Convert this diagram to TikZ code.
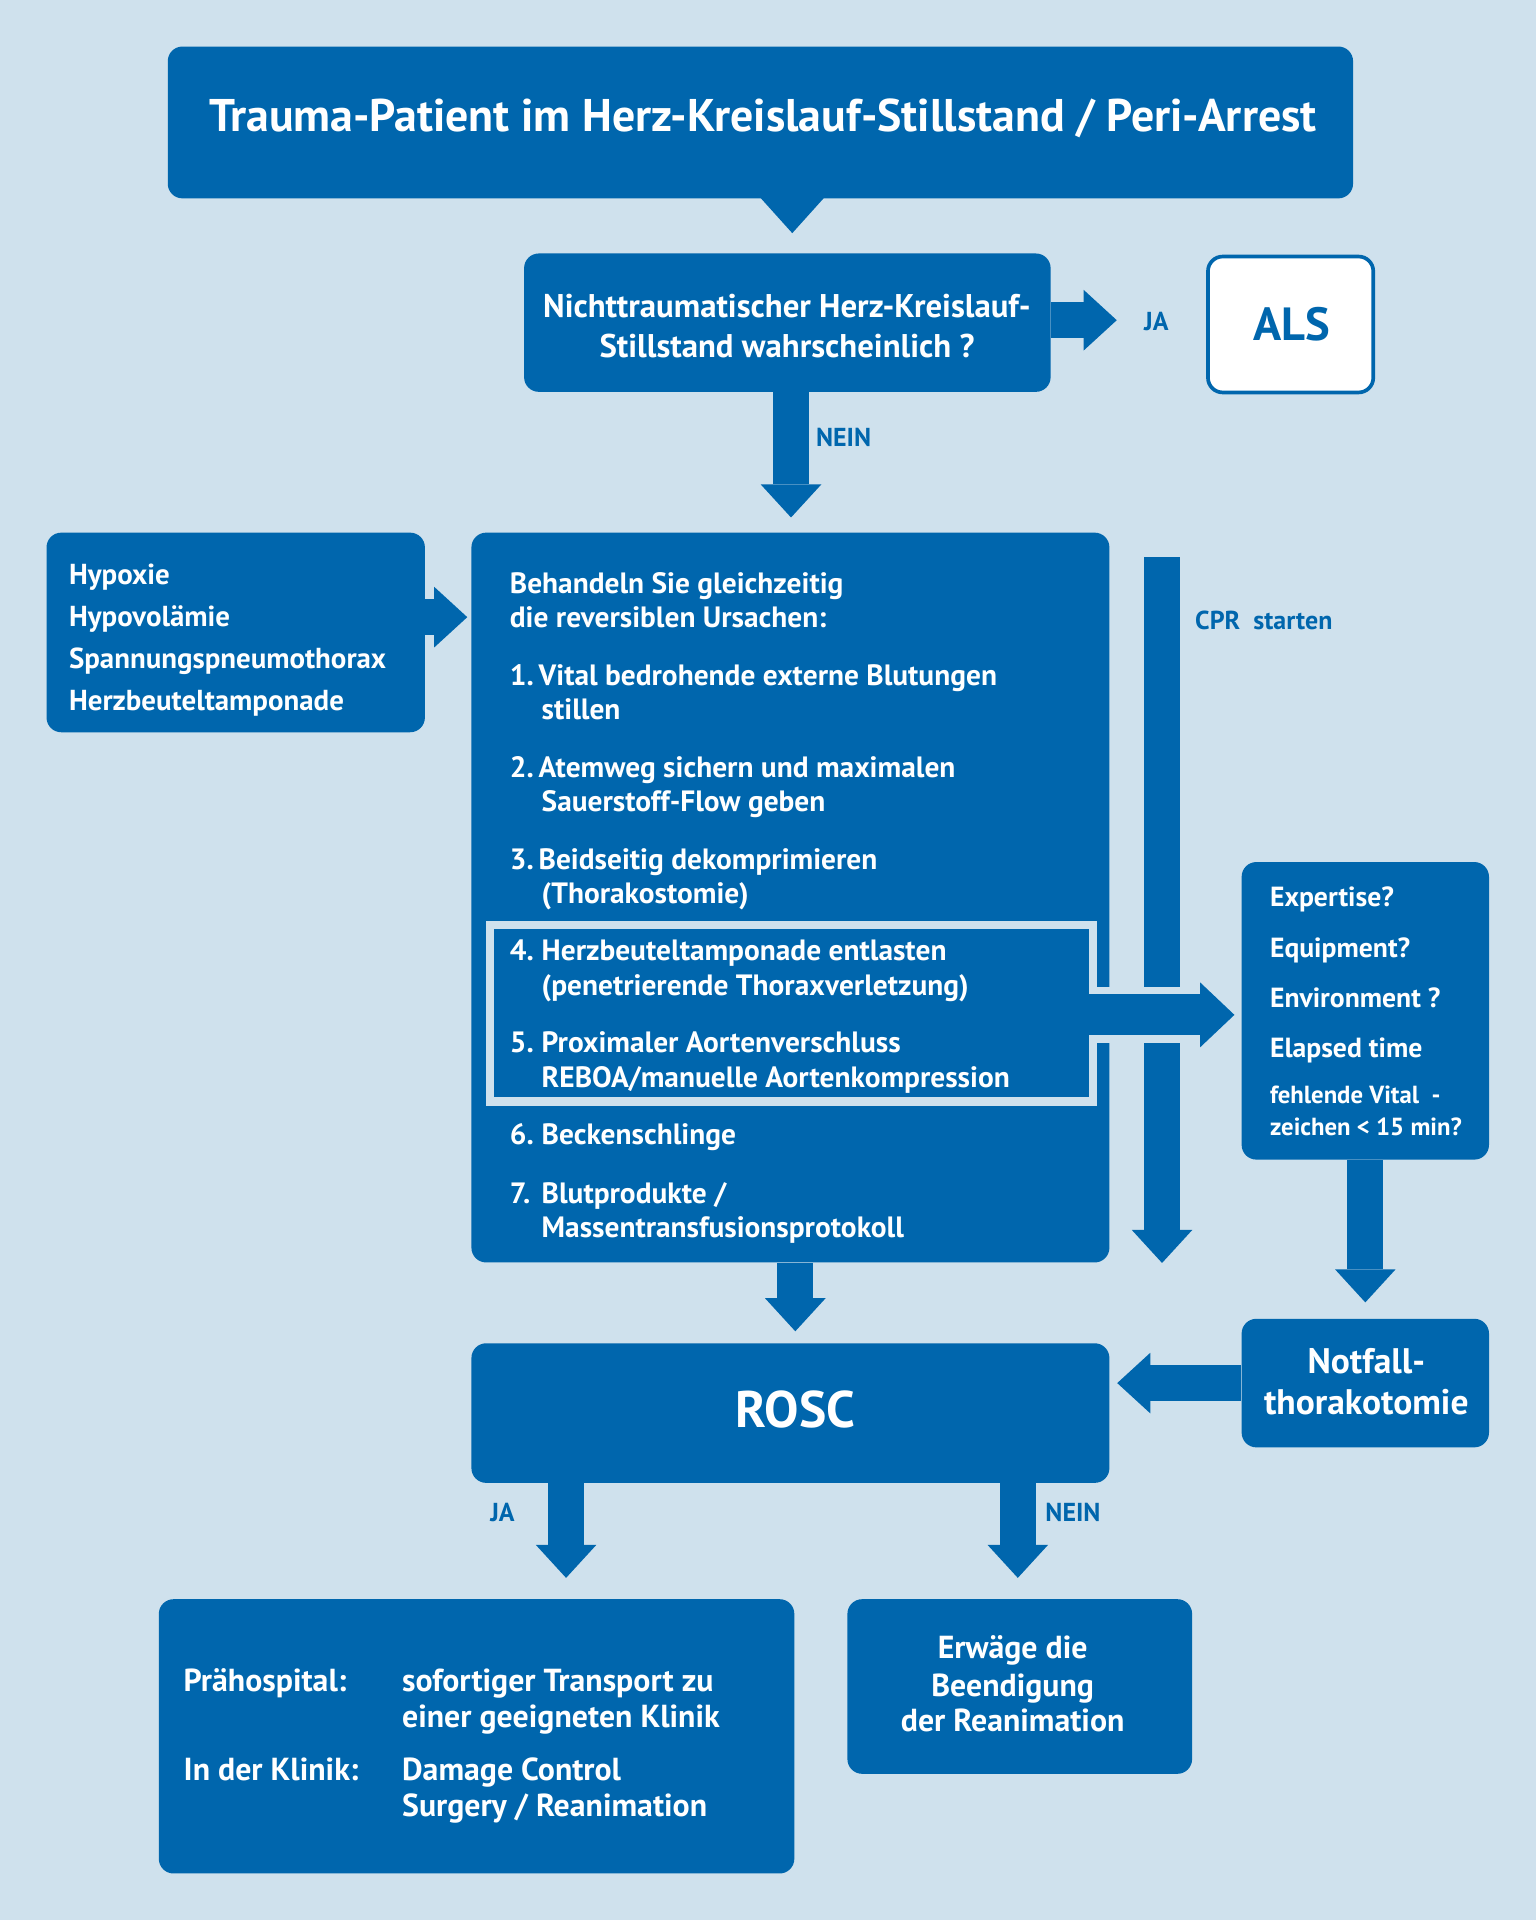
\documentclass[tikz,border=0pt]{standalone}
\usepackage{fontspec}
\setmainfont{PT Sans}
\usetikzlibrary{arrows.meta,calc}
\definecolor{myblue}{RGB}{0,102,173}
\definecolor{bgc}{RGB}{207,225,237}
\begin{document}
\begin{tikzpicture}[x=0.5pt,y=-0.5pt,
  box/.style={fill=myblue, rounded corners=6pt, draw=none, inner sep=0pt},
  wt/.style={text=white, inner sep=0pt, font=\bfseries\fontsize{12}{14}\selectfont, anchor=base west},
  lbl/.style={text=myblue, inner sep=0pt, font=\bfseries\fontsize{10.6}{12}\selectfont, anchor=base west},
  barrow/.style={draw=myblue, line width=14.75pt, -{Triangle[width=24.75pt,length=13.5pt,line width=0pt]}},
  harrow/.style={draw=myblue, line width=16.8pt, -{Triangle[width=26.5pt,length=14pt,line width=0pt]}}
]
\fill[bgc] (0,0) rectangle (1254,1568);
\useasboundingbox (0,0) rectangle (1254,1568);

% boxes
\node[box, minimum width=484pt, minimum height=62pt] (title) at (621,100) {};
\fill[myblue] ($(title.south)+(-1,-2)$) -- ($(title.south)+(53,-2)$) -- ($(title.south)+(26,28)$) -- cycle;
\node[box, minimum width=215pt, minimum height=56.5pt] (q) at (643,263.5) {};
\node[fill=white, draw=myblue, line width=1.5pt, rounded corners=6pt, inner sep=0pt, minimum width=67.5pt, minimum height=55.5pt] (als) at (1054,265) {};
\node[box, minimum width=154.5pt, minimum height=81.5pt] (hyp) at (192.5,516.5) {};
\node[box, minimum width=260.5pt, minimum height=298pt] (main) at (645.5,733) {};
\node[draw=bgc, line width=3.5pt, inner sep=0pt, minimum width=246.1pt, minimum height=72.1pt] (inner) at (646.4,827.4) {};
\node[box, minimum width=101pt, minimum height=121.5pt] (exp) at (1115,825.5) {};
\node[box, minimum width=101pt, minimum height=52.5pt] (notf) at (1115,1129.5) {};
\node[box, minimum width=260.5pt, minimum height=57pt] (rosc) at (645.5,1154) {};
\node[box, minimum width=259.5pt, minimum height=112pt] (lb) at (389.2,1418) {};
\node[box, minimum width=140.75pt, minimum height=71.3pt] (rb) at (832.8,1377.3) {};

% connectors
\draw[barrow] ($(q.east)+(0,-2)$) -- ($(als.west)+(-73,-3.5)$);
\draw[barrow] ($(q.south)+(3,0)$) -- ($(main.north)+(0.5,-12)$);
\draw[barrow] ($(hyp.east)+(0,-12.5)$) -- ($(main.west |- hyp.east)+(-3,-12.5)$);
\coordinate (cprtop) at (949,455);
\draw[barrow] (cprtop) -- (cprtop |- main.south);
\draw[bgc, line width=23.15pt] ($(inner.east)+(-3.5,1.4)$) -- ($(exp.west)+(-34,3.3)$);
\draw[harrow] ($(inner.east)+(-7.5,1.4)$) -- ($(exp.west)+(-5.5,3.3)$);
\draw[barrow, shorten >=6.5pt] (exp.south) -- (notf.north);
\draw[barrow, shorten >=3pt] (notf.west) -- (notf.west -| rosc.east);
\draw[barrow] ($(main.south)+(4,0)$) -- ($(rosc.north)+(4,-9.4)$);
\coordinate (jatop) at ($(rosc.south west)+(77.7,0)$);
\coordinate (neintop) at ($(rosc.south east)+(-75.2,0)$);
\draw[barrow, shorten >=8.5pt] (jatop) -- (jatop |- lb.north);
\draw[barrow, shorten >=8.5pt] (neintop) -- (neintop |- rb.north);

% labels
\node[lbl] (ja1) at (934,270) {JA};
\node[lbl] (nein1) at (666,365) {NEIN};
\node[lbl] (cpr) at (975.7,514) {CPR~~starten};
\node[lbl] (ja2) at (400,1242.5) {JA};
\node[lbl] (nein2) at (853.4,1242.5) {NEIN};

% texts
\node[wt, anchor=base, font=\bfseries\fontsize{18.7}{22}\selectfont] (ttl) at (623,107) {Trauma-Patient im Herz-Kreislauf-Stillstand / Peri-Arrest};
\node[wt, anchor=base, font=\bfseries\fontsize{13.4}{15}\selectfont] (q1) at (642.7,259) {Nichttraumatischer Herz-Kreislauf-};
\node[wt, anchor=base, font=\bfseries\fontsize{13.4}{15}\selectfont] (q2) at (642.7,292) {Stillstand wahrscheinlich ?};
\node[wt, anchor=base, text=myblue, font=\bfseries\fontsize{19}{22}\selectfont] (alst) at (1055,278) {ALS};

\node[wt, font=\bfseries\fontsize{11.8}{14}\selectfont] (h1) at (56,477.6) {Hypoxie};
\node[wt, font=\bfseries\fontsize{11.8}{14}\selectfont] (h2) at (56,511.8) {Hypovolämie};
\node[wt, font=\bfseries\fontsize{11.8}{14}\selectfont] (h3) at (56,546) {Spannungspneumothorax};
\node[wt, font=\bfseries\fontsize{11.8}{14}\selectfont] (h4) at (56,580.2) {Herzbeuteltamponade};

\node[wt] (m0a) at (416,484.5) {Behandeln Sie gleichzeitig};
\node[wt] (m0b) at (416,512.2) {die reversiblen Ursachen:};
\node[wt] (m1a) at (416,559.7) {1.\,Vital bedrohende externe Blutungen};
\node[wt] (m1b) at (442,587.7) {stillen};
\node[wt] (m2a) at (416,634.8) {2.\,Atemweg sichern und maximalen};
\node[wt] (m2b) at (442,662.8) {Sauerstoff-Flow geben};
\node[wt] (m3a) at (416,709.8) {3.\,Beidseitig dekomprimieren};
\node[wt] (m3b) at (442,737.8) {(Thorakostomie)};
\node[wt] (m4n) at (416,784.8) {4.};
\node[wt] (m4a) at (442,784.8) {Herzbeuteltamponade entlasten};
\node[wt] (m4b) at (442,812.8) {(penetrierende Thoraxverletzung)};
\node[wt] (m5n) at (416,859.8) {5.};
\node[wt] (m5a) at (442,859.8) {Proximaler Aortenverschluss};
\node[wt] (m5b) at (442,887.8) {REBOA/manuelle Aortenkompression};
\node[wt] (m6n) at (416,934.7) {6.};
\node[wt] (m6a) at (442,934.7) {Beckenschlinge};
\node[wt] (m7n) at (416,982.5) {7.};
\node[wt] (m7a) at (442,982.5) {Blutprodukte /};
\node[wt] (m7b) at (442,1010.5) {Massentransfusionsprotokoll};

\node[wt, font=\bfseries\fontsize{11.3}{13}\selectfont] (e1) at (1036.8,740.7) {Expertise?};
\node[wt, font=\bfseries\fontsize{11.3}{13}\selectfont] (e2) at (1036.8,781.6) {Equipment?};
\node[wt, font=\bfseries\fontsize{11.3}{13}\selectfont] (e3) at (1036.8,822.5) {Environment ?};
\node[wt, font=\bfseries\fontsize{11.3}{13}\selectfont] (e4) at (1036.8,863.8) {Elapsed time};
\node[wt, font=\bfseries\fontsize{10.1}{12}\selectfont] (e5) at (1036.8,901.4) {fehlende Vital~~-};
\node[wt, font=\bfseries\fontsize{10.1}{12}\selectfont] (e6) at (1036.8,927.3) {zeichen < 15 min?};

\node[wt, anchor=base, font=\bfseries\fontsize{14.5}{17}\selectfont] (n1) at (1115.8,1121.8) {Notfall-};
\node[wt, anchor=base, font=\bfseries\fontsize{14.5}{17}\selectfont] (n2) at (1115.8,1155.2) {thorakotomie};
\node[wt, anchor=base, font=\bfseries\fontsize{21}{25}\selectfont] (rosct) at (649.5,1166) {ROSC};

\node[wt, font=\bfseries\fontsize{13}{15}\selectfont] (l1) at (149.6,1381) {Prähospital:};
\node[wt, font=\bfseries\fontsize{13}{15}\selectfont] (l2) at (328,1381) {sofortiger Transport zu};
\node[wt, font=\bfseries\fontsize{13}{15}\selectfont] (l3) at (328,1411) {einer geeigneten Klinik};
\node[wt, font=\bfseries\fontsize{13}{15}\selectfont] (l4) at (149.6,1454.3) {In der Klinik:};
\node[wt, font=\bfseries\fontsize{13}{15}\selectfont] (l5) at (328,1454.3) {Damage Control};
\node[wt, font=\bfseries\fontsize{13}{15}\selectfont] (l6) at (328,1483.7) {Surgery / Reanimation};

\node[wt, anchor=base, font=\bfseries\fontsize{13}{15}\selectfont] (r1) at (827,1354.3) {Erwäge die};
\node[wt, anchor=base, font=\bfseries\fontsize{13}{15}\selectfont] (r2) at (827,1385.3) {Beendigung};
\node[wt, anchor=base, font=\bfseries\fontsize{13}{15}\selectfont] (r3) at (827,1414.3) {der Reanimation};
\end{tikzpicture}
\end{document}
